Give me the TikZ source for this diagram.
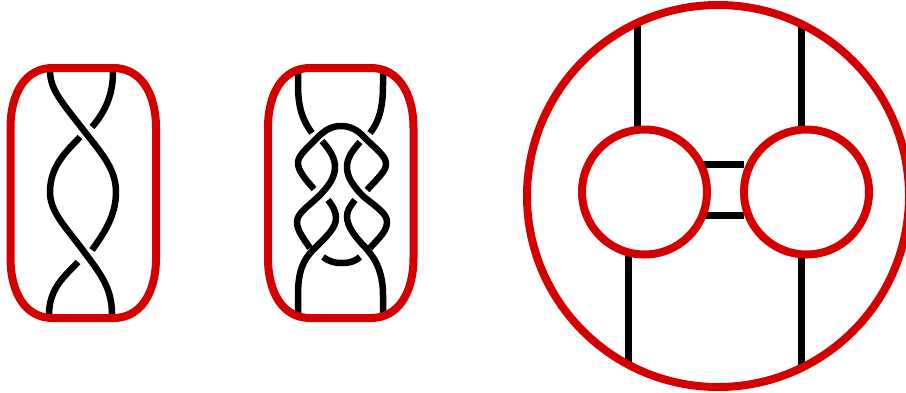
\documentclass[tikz,border=0pt]{standalone}
\usetikzlibrary{positioning,calc}
\definecolor{ringred}{HTML}{D40000}
\pgfdeclarelayer{back}
\pgfsetlayers{back,main}

\begin{document}
\begin{tikzpicture}[x=1pt, y=-1pt, line join=round,
  strand/.style={draw=black, line width=6.5pt},
  ring/.style={circle, draw=ringred, line width=8pt, inner sep=0pt, outer sep=0pt},
  tangle/.style={draw=ringred, line width=8pt}]
\clip (0,0) rectangle (906,392);
% first tangle
\draw[strand] (50,72) .. controls (51,90) and (60,100) .. (85,132) .. controls (103,155) and (116,170) .. (116,192) .. controls (116,215) and (105,232) .. (92,250);
\draw[strand] (113,72) .. controls (113,95) and (105,112) .. (92,127);
\draw[strand] (80,137) .. controls (68,150) and (50,165) .. (50,192) .. controls (50,212) and (65,226) .. (85,253) .. controls (103,277) and (112,290) .. (112,315);
\draw[strand] (78,262) .. controls (65,276) and (49,288) .. (49,315);
% second tangle
\draw[strand] (298,72) -- (298,85) .. controls (298,110) and (304,122) .. (312,133);
\draw[strand] (383,72) -- (383,85) .. controls (383,110) and (378,123) .. (370,133);
\draw[strand] (314,189) .. controls (304,178) and (298,170) .. (298,163) .. controls (298,156) and (305,150) .. (318,137) .. controls (326,129) and (333,126) .. (341,126) .. controls (349,126) and (357,129) .. (365,138) .. controls (377,150) and (386,156) .. (386,164) .. controls (386,171) and (378,178) .. (367,190);
\draw[strand] (322,141) .. controls (330,150) and (335,158) .. (335,167) .. controls (335,178) and (328,187) .. (318,197) .. controls (306,208) and (297,214) .. (297,222) .. controls (297,230) and (303,238) .. (310,248);
\draw[strand] (360,142) .. controls (352,151) and (347,158) .. (347,167) .. controls (347,178) and (354,187) .. (364,197) .. controls (378,208) and (387,214) .. (387,222) .. controls (387,231) and (379,238) .. (370,248);
\draw[strand] (328,200) .. controls (333,206) and (336,212) .. (336,218) .. controls (336,228) and (327,236) .. (313,250) .. controls (303,260) and (298,272) .. (298,295) -- (298,315);
\draw[strand] (355,200) .. controls (350,206) and (347,211) .. (347,216) .. controls (347,226) and (354,235) .. (362,244) .. controls (374,256) and (383,270) .. (383,295) -- (383,315);
\draw[strand] (323,257) .. controls (330,262) and (335,263) .. (342,263) .. controls (349,263) and (354,262) .. (360,257);
\foreach \x in {10.5,268} \draw[tangle, shift={(\x,68)}] (42,0) -- (103,0) .. controls (130,0) and (145.5,25) .. (145.5,60) -- (145.5,190) .. controls (145.5,225) and (130,250) .. (103,250) -- (42,250) .. controls (15,250) and (0,225) .. (0,190) -- (0,60) .. controls (0,25) and (15,0) .. (42,0) -- cycle;
% disc with two holes
\node[ring, minimum size=382pt] (disc) at (718,196) {};
\node[ring, minimum size=125pt] (holea) at (644.5,192) {};
\node[ring, minimum size=125pt] (holeb) at (806.5,192) {};
\begin{pgfonlayer}{back}
\draw[strand] (disc.115) -- (disc.115 |- holea.north);
\draw[strand] (disc.64) -- (disc.64 |- holeb.north);
\draw[strand] (disc.242) -- (disc.242 |- holea.south);
\draw[strand] (disc.296) -- (disc.296 |- holeb.south);
\draw[strand] (holea.26.6) -- (holea.26.6 -| holeb.west);
\draw[strand] (holea.-22.6) -- (holea.-22.6 -| holeb.west);
\end{pgfonlayer}
\end{tikzpicture}
\end{document}
